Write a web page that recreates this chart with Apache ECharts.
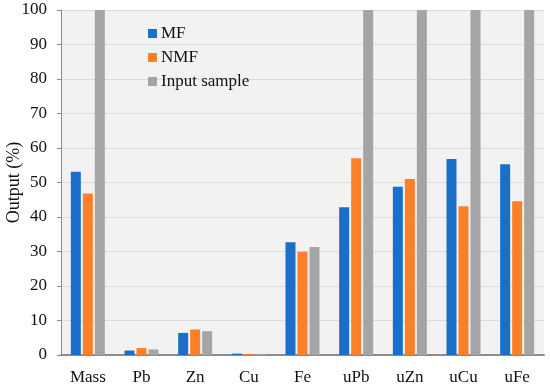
<!DOCTYPE html>
<html><head><meta charset="utf-8">
<script src="https://cdn.jsdelivr.net/npm/echarts@6/dist/echarts.min.js"></script>
<style>html,body{margin:0;padding:0;background:#fff}#c{width:550px;height:386px}</style>
</head><body><div id="c"></div>
<script>
const categories = ['Mass','Pb','Zn','Cu','Fe','uPb','uZn','uCu','uFe'];
const mf = [53.1, 1.3, 6.4, 0.4, 32.7, 42.8, 48.8, 56.8, 55.3];
const nmf = [46.8, 2.0, 7.4, 0.3, 29.9, 57.0, 51.0, 43.1, 44.6];
const inputSample = [100, 1.6, 6.9, 0.3, 31.3, 100, 100, 100, 100];
const seriesNames = ['MF','NMF','Input sample'];
const yTicks = [0,10,20,30,40,50,60,70,80,90,100];

const font = 'Liberation Serif, Times New Roman, serif';
const chart = echarts.init(document.getElementById('c'));
const mk = (name, data, color) => ({name, type:'bar', data, barWidth:10, barGap:'20%', itemStyle:{color}});
chart.setOption({
  animation:false,
  backgroundColor:'#fff',
  textStyle:{fontFamily:font},
  grid:{left:61, right:6, top:10, bottom:31, show:true, backgroundColor:'#f2f2f2', borderWidth:0,
    containLabel:false, outerBoundsMode:'none'},
  legend:{left:143, top:20, orient:'vertical', itemWidth:9, itemHeight:9, itemGap:7,
    icon:'rect', textStyle:{fontFamily:font, fontSize:17, color:'#111', padding:[0,0,0,-1]}, data:seriesNames},
  xAxis:{type:'category', data:categories,
    axisLine:{lineStyle:{color:'#8c8c8c', width:2}}, axisTick:{show:false},
    axisLabel:{fontFamily:font, fontSize:17, color:'#111', margin:14}},
  yAxis:{type:'value', min:yTicks[0], max:yTicks[yTicks.length-1], interval:10,
    name:'Output (%)', nameLocation:'middle', nameGap:38, nameRotate:90, nameMoveOverlap:false,
    nameTextStyle:{fontFamily:font, fontSize:18, color:'#111'},
    axisLine:{show:true, lineStyle:{color:'#8c8c8c', width:1}},
    axisTick:{show:true, length:4, lineStyle:{color:'#8c8c8c'}},
    splitLine:{lineStyle:{color:'#dcdcdc'}},
    axisLabel:{fontFamily:font, fontSize:17, color:'#111', margin:14}},
  series:[mk(seriesNames[0], mf, '#1B6FC8'), mk(seriesNames[1], nmf, '#FC7F2A'), mk(seriesNames[2], inputSample, '#A5A5A5')]
});
</script></body></html>
